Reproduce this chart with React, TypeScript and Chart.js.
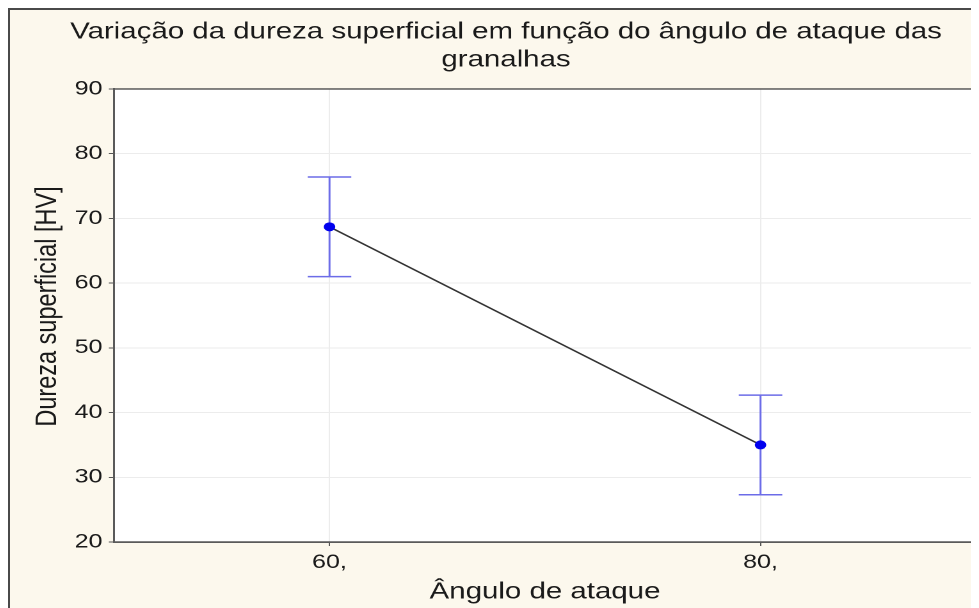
import React, { useEffect, useRef } from "react";
import { Chart, registerables } from "chart.js";

Chart.register(...registerables);

// Attack angle (degrees) and mean surface hardness with its error half-width
const angles = [60, 80];
const hardness = [68.7, 35.0];
const hardnessErr = [7.7, 7.7];
const xTickValues = [60, 80];
const yMin = 20;
const yMax = 90;
const yStep = 10;

const titleLines = [
  "Variação da dureza superficial em função do ângulo de ataque das",
  "granalhas",
];
const yTitle = "Dureza superficial [HV]";
const xTitle = "Ângulo de ataque";

const FONT = "'Liberation Sans', Arial, sans-serif";
const TEXT = "#1a1a1a";
const STRETCH = 1.28;
const CANVAS_W = 775;
const CANVAS_H = 598;

const plotBackground = {
  id: "plotBackground",
  beforeDraw(chart: any) {
    const { ctx, chartArea } = chart;
    ctx.save();
    ctx.fillStyle = "#ffffff";
    ctx.fillRect(chartArea.left, chartArea.top, chartArea.right - chartArea.left, chartArea.bottom - chartArea.top);
    ctx.restore();
  },
};

const plotFrame = {
  id: "plotFrame",
  afterDraw(chart: any) {
    const { ctx, chartArea } = chart;
    ctx.save();
    ctx.strokeStyle = "#5a5a5a";
    ctx.lineWidth = 1.5;
    ctx.strokeRect(chartArea.left, chartArea.top, chartArea.right - chartArea.left, chartArea.bottom - chartArea.top);
    ctx.strokeStyle = "#7a7a7a";
    ctx.lineWidth = 2.2;
    ctx.beginPath();
    ctx.moveTo(chartArea.right, chartArea.top);
    ctx.lineTo(chartArea.right, chartArea.bottom);
    ctx.stroke();
    ctx.restore();
  },
};

// Vertical axis title, placed a little above the plot's middle
const yAxisTitle = {
  id: "yAxisTitle",
  afterDraw(chart: any) {
    const { ctx } = chart;
    ctx.save();
    ctx.translate(29.3, 296.5);
    ctx.rotate(-Math.PI / 2);
    ctx.fillStyle = TEXT;
    ctx.font = `23.5px ${FONT}`;
    ctx.textAlign = "center";
    ctx.textBaseline = "middle";
    ctx.fillText(yTitle, 0, 0);
    ctx.restore();
  },
};

const errorBars = {
  id: "errorBars",
  beforeDatasetsDraw(chart: any) {
    const { ctx } = chart;
    const xs = chart.scales.x;
    const ys = chart.scales.y;
    const cap = 17;
    ctx.save();
    ctx.strokeStyle = "#6c6ce8";
    ctx.lineWidth = 1.5;
    angles.forEach((a, i) => {
      const px = xs.getPixelForValue(a);
      const top = ys.getPixelForValue(hardness[i] + hardnessErr[i]);
      const bot = ys.getPixelForValue(hardness[i] - hardnessErr[i]);
      ctx.beginPath();
      ctx.moveTo(px, top);
      ctx.lineTo(px, bot);
      ctx.moveTo(px - cap, top);
      ctx.lineTo(px + cap, top);
      ctx.moveTo(px - cap, bot);
      ctx.lineTo(px + cap, bot);
      ctx.stroke();
    });
    ctx.restore();
  },
};

export default function App() {
  const canvasRef = useRef<HTMLCanvasElement | null>(null);

  useEffect(() => {
    document.documentElement.style.overflow = "hidden";
    document.body.style.overflow = "hidden";
    const canvas = canvasRef.current;
    if (!canvas) return;

    const chart = new Chart(canvas, {
      type: "line",
      data: {
        datasets: [
          {
            data: angles.map((a, i) => ({ x: a, y: hardness[i] })),
            borderColor: "#333333",
            borderWidth: 1.5,
            pointRadius: 4.5,
            pointBackgroundColor: "#0000ee",
            pointBorderColor: "#0000ee",
            pointBorderWidth: 0,
            tension: 0,
          },
        ],
      },
      options: {
        responsive: false,
        animation: false,
        devicePixelRatio: 2,
        layout: { padding: 0 },
        plugins: {
          legend: { display: false },
          tooltip: { enabled: false },
          title: {
            display: true,
            text: titleLines,
            color: TEXT,
            font: { family: FONT, size: 23, weight: "normal", lineHeight: 1.217 },
            padding: { top: 8, bottom: 15 },
          },
        },
        scales: {
          x: {
            type: "linear",
            min: 50,
            max: 90,
            afterBuildTicks(scale: any) {
              scale.ticks = xTickValues.map((v) => ({ value: v }));
            },
            afterFit(scale: any) {
              scale.height = 66;
            },
            ticks: {
              color: TEXT,
              font: { family: FONT, size: 19.5 },
              padding: 5,
              maxRotation: 0,
              callback: (v: any) => `${v},`,
            },
            grid: { color: "#ececec", lineWidth: 1, tickLength: 4, tickColor: "#555555" },
            border: { display: true, color: "#5a5a5a", width: 1.5 },
            title: {
              display: true,
              text: xTitle,
              color: TEXT,
              font: { family: FONT, size: 23 },
              padding: { top: 0, bottom: 2 },
            },
          },
          y: {
            min: yMin,
            max: yMax,
            afterFit(scale: any) {
              scale.width = 81.25;
            },
            ticks: {
              stepSize: yStep,
              color: TEXT,
              font: { family: FONT, size: 19.5 },
              padding: 5,
            },
            grid: { color: "#ececec", lineWidth: 1, tickLength: 4, tickColor: "#555555" },
            border: { display: true, color: "#5a5a5a", width: 1.5 },
          },
          // empty strip to the right of the plot
          rightGap: {
            type: "linear",
            position: "right",
            display: true,
            afterFit(scale: any) {
              scale.width = 20.3;
            },
            ticks: { display: false },
            grid: { display: false },
            border: { display: false },
          },
        },
      },
      plugins: [plotBackground, errorBars, plotFrame, yAxisTitle],
    });

    return () => chart.destroy();
  }, []);

  return (
    <div
      style={{
        width: 971,
        height: 600,
        boxSizing: "border-box",
        borderLeft: "2px solid #4a4a4a",
        borderTop: "2px solid #4a4a4a",
        background: "#fcf8ed",
        overflow: "hidden",
      }}
    >
      <div
        style={{
          width: CANVAS_W,
          height: CANVAS_H,
          transform: `scaleX(${STRETCH})`,
          transformOrigin: "0 0",
        }}
      >
        <canvas ref={canvasRef} width={CANVAS_W} height={CANVAS_H} style={{ display: "block" }} />
      </div>
    </div>
  );
}
